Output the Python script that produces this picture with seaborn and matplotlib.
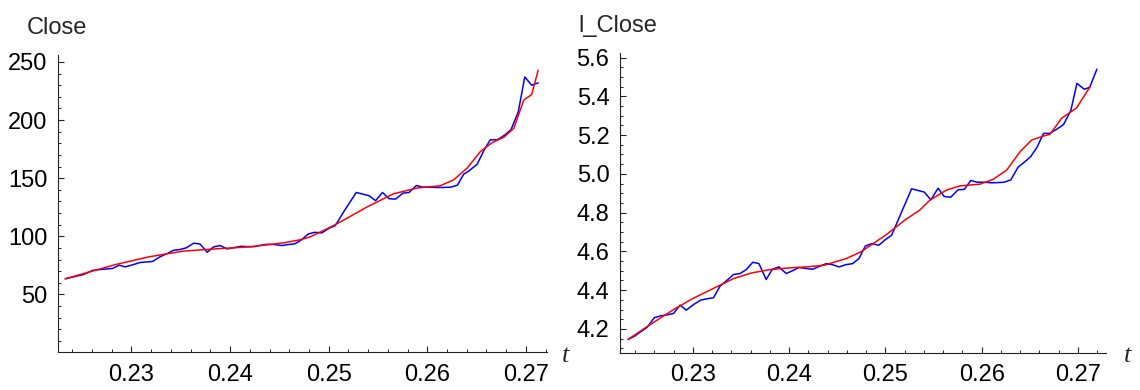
import seaborn as sns
import matplotlib.pyplot as plt
from matplotlib.ticker import FixedLocator, MultipleLocator, FormatStrFormatter

# Close: blue = observed, red = fitted
t_close = [0.22328, 0.22402, 0.22513, 0.22605, 0.22679, 0.22808, 0.22875, 0.22937,
           0.23011, 0.23085, 0.23214, 0.23288, 0.23362, 0.23428, 0.23491, 0.23554,
           0.23631, 0.23694, 0.23768, 0.23834, 0.23900, 0.23970, 0.24044, 0.24111,
           0.24173, 0.24247, 0.24314, 0.24376, 0.24450, 0.24524, 0.24590, 0.24653,
           0.24720, 0.24793, 0.24860, 0.24930, 0.25004, 0.25066, 0.25170, 0.25280,
           0.25410, 0.25476, 0.25546, 0.25613, 0.25679, 0.25753, 0.25815, 0.25889,
           0.25952, 0.26018, 0.26092, 0.26166, 0.26240, 0.26306, 0.26369, 0.26424,
           0.26506, 0.26572, 0.26638, 0.26712, 0.26786, 0.26849, 0.26923, 0.26989,
           0.27059, 0.27125]
close = [63.4, 64.9, 67.1, 70.6, 71.4, 72.3, 75.1, 73.7,
         75.4, 77.4, 78.3, 82.3, 85.1, 88.0, 88.6, 90.0,
         94.0, 93.4, 86.3, 90.9, 92.0, 89.1, 90.3, 91.4,
         91.1, 91.1, 92.3, 93.1, 92.9, 92.0, 92.9, 93.4,
         96.6, 102.0, 103.4, 102.9, 106.9, 109.1, 123.4, 137.7,
         134.9, 130.6, 137.7, 132.3, 132.0, 137.1, 137.7, 143.7,
         142.3, 142.3, 142.0, 142.0, 142.3, 144.0, 153.4, 156.3,
         162.0, 173.4, 182.9, 183.1, 187.1, 191.7, 207.1, 237.1,
         230.0, 232.0]

t_close_fit = [0.22328, 0.2284, 0.23183, 0.23522, 0.2386, 0.24198, 0.24542, 0.24712,
               0.24813, 0.2505, 0.25219, 0.25389, 0.25659, 0.25896, 0.26133, 0.26268,
               0.26404, 0.26539, 0.26658, 0.26776, 0.26878, 0.26978, 0.27059, 0.27125]
close_fit = [63.4, 75.7, 82.4, 87.2, 89.2, 90.9, 94.3, 97.0,
             99.5, 109.2, 117.1, 125.2, 136.6, 141.5, 143.5, 148.6,
             158.6, 172.9, 180.6, 185.2, 192.9, 217.1, 222.0, 242.9]

# l_Close: blue = observed, red = fitted
t_lclose = [0.22328, 0.22396, 0.22460, 0.22525, 0.22600, 0.22668, 0.22736, 0.22800,
            0.22868, 0.22932, 0.23008, 0.23083, 0.23151, 0.23215, 0.23283, 0.23355,
            0.23423, 0.23491, 0.23555, 0.23623, 0.23687, 0.23762, 0.23826, 0.23894,
            0.23970, 0.24034, 0.24102, 0.24177, 0.24245, 0.24321, 0.24385, 0.24449,
            0.24517, 0.24592, 0.24660, 0.24725, 0.24792, 0.24857, 0.24932, 0.25000,
            0.25064, 0.25272, 0.25404, 0.25472, 0.25547, 0.25611, 0.25679, 0.25755,
            0.25819, 0.25887, 0.25951, 0.26026, 0.26102, 0.26170, 0.26234, 0.26302,
            0.26377, 0.26442, 0.26509, 0.26574, 0.26642, 0.26706, 0.26781, 0.26849,
            0.26925, 0.26989, 0.27064, 0.27121, 0.27196]
lclose = [4.146, 4.163, 4.186, 4.208, 4.258, 4.268, 4.273, 4.280,
          4.323, 4.297, 4.326, 4.349, 4.356, 4.361, 4.421, 4.451,
          4.481, 4.486, 4.506, 4.544, 4.537, 4.455, 4.508, 4.520,
          4.486, 4.500, 4.517, 4.512, 4.508, 4.524, 4.537, 4.532,
          4.520, 4.532, 4.537, 4.563, 4.628, 4.640, 4.632, 4.661,
          4.683, 4.923, 4.906, 4.866, 4.926, 4.883, 4.880, 4.918,
          4.920, 4.966, 4.957, 4.957, 4.954, 4.955, 4.957, 4.969,
          5.034, 5.060, 5.089, 5.137, 5.209, 5.209, 5.231, 5.254,
          5.326, 5.467, 5.437, 5.446, 5.540]

t_lclose_fit = [0.22328, 0.22525, 0.22800, 0.23000, 0.23234, 0.23423, 0.23611, 0.23800,
                0.24000, 0.24177, 0.24366, 0.24592, 0.24743, 0.25000, 0.25204, 0.25359,
                0.25463, 0.25637, 0.25775, 0.25982, 0.2612, 0.2626, 0.26398, 0.2652,
                0.2664, 0.26709, 0.2683, 0.26986, 0.27125]
lclose_fit = [4.146, 4.212, 4.300, 4.357, 4.414, 4.460, 4.489, 4.506,
              4.515, 4.520, 4.529, 4.563, 4.597, 4.683, 4.762, 4.814,
              4.865, 4.917, 4.938, 4.947, 4.972, 5.020, 5.114, 5.175,
              5.195, 5.204, 5.287, 5.341, 5.449]

sns.set_style("ticks")
plt.rcParams['font.family'] = ['Liberation Sans', 'DejaVu Sans']

fig = plt.figure(figsize=(11.4, 3.9), dpi=100)
ax1 = fig.add_axes([0.0509, 0.0962, 0.4289, 0.7628])
ax2 = fig.add_axes([0.5437, 0.0949, 0.4265, 0.7684])

sns.lineplot(x=t_close, y=close, color="blue", lw=1.1, ax=ax1)
sns.lineplot(x=t_close_fit, y=close_fit, color="red", lw=1.1, ax=ax1)
sns.lineplot(x=t_lclose, y=lclose, color="blue", lw=1.1, ax=ax2)
sns.lineplot(x=t_lclose_fit, y=lclose_fit, color="red", lw=1.1, ax=ax2)

ax1.set_xlim(0.22255, 0.27214)
ax1.set_ylim(0, 256)
ax1.yaxis.set_major_locator(FixedLocator([50, 100, 150, 200, 250]))
ax1.yaxis.set_minor_locator(MultipleLocator(10))

ax2.set_xlim(0.22242, 0.27291)
ax2.set_ylim(4.076, 5.622)
ax2.yaxis.set_major_locator(FixedLocator([4.2, 4.4, 4.6, 4.8, 5.0, 5.2, 5.4, 5.6]))
ax2.yaxis.set_minor_locator(MultipleLocator(0.05))
ax2.yaxis.set_major_formatter(FormatStrFormatter('%.1f'))

for ax in (ax1, ax2):
    ax.xaxis.set_major_locator(FixedLocator([0.23, 0.24, 0.25, 0.26, 0.27]))
    ax.xaxis.set_minor_locator(MultipleLocator(0.002))
    ax.xaxis.set_major_formatter(FormatStrFormatter('%.2f'))
    for s in ['top', 'right']:
        ax.spines[s].set_visible(False)
    for s in ['left', 'bottom']:
        ax.spines[s].set_color('#222222')
        ax.spines[s].set_linewidth(0.8)
    ax.tick_params(which='both', direction='in', colors='#222222', labelcolor='black', labelsize=17)
    ax.tick_params(which='major', length=4.5, width=0.8)
    ax.tick_params(which='minor', length=2.3, width=0.7)
    ax.tick_params(axis='x', which='both', pad=8)
    ax.tick_params(axis='y', which='both', pad=7.5)
    ax.set_xlabel('')
    ax.set_ylabel('')
    ax.set_facecolor('white')

fig.text(26.7 / 1140, 1 - 34 / 390, "Close", fontsize=17, va='baseline', ha='left')
fig.text(578 / 1140, 1 - 32 / 390, "l_Close", fontsize=17, va='baseline', ha='left')
fig.text(562 / 1140, 1 - 356 / 390, "t", fontsize=19, style='italic', va='center', ha='left',
         family=['Liberation Serif', 'DejaVu Serif'])
fig.text(1124 / 1140, 1 - 356 / 390, "t", fontsize=19, style='italic', va='center', ha='left',
         family=['Liberation Serif', 'DejaVu Serif'])

fig.savefig("out.png", dpi=100, facecolor='white')
